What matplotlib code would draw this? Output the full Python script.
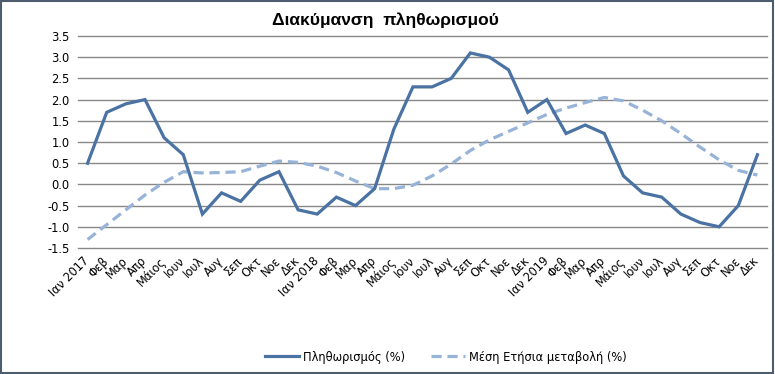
import matplotlib
matplotlib.use("Agg")
import matplotlib.pyplot as plt
from matplotlib.patches import Rectangle

months = ["Ιαν 2017", "Φεβ", "Μαρ", "Απρ", "Μάιος", "Ιουν", "Ιουλ", "Αυγ", "Σεπ", "Οκτ", "Νοε", "Δεκ",
          "Ιαν 2018", "Φεβ", "Μαρ", "Απρ", "Μάιος", "Ιουν", "Ιουλ", "Αυγ", "Σεπ", "Οκτ", "Νοε", "Δεκ",
          "Ιαν 2019", "Φεβ", "Μαρ", "Απρ", "Μάιος", "Ιουν", "Ιουλ", "Αυγ", "Σεπ", "Οκτ", "Νοε", "Δεκ"]

inflation = [0.5, 1.7, 1.9, 2.0, 1.1, 0.7, -0.7, -0.2, -0.4, 0.1, 0.3, -0.6,
             -0.7, -0.3, -0.5, -0.1, 1.3, 2.3, 2.3, 2.5, 3.1, 3.0, 2.7, 1.7,
             2.0, 1.2, 1.4, 1.2, 0.2, -0.2, -0.3, -0.7, -0.9, -1.0, -0.5, 0.7]

avg_annual = [-1.3, -0.95, -0.6, -0.25, 0.05, 0.3, 0.27, 0.28, 0.3, 0.43, 0.55, 0.52,
              0.43, 0.28, 0.08, -0.1, -0.1, -0.02, 0.2, 0.48, 0.8, 1.05, 1.25, 1.45,
              1.65, 1.8, 1.93, 2.05, 1.97, 1.75, 1.5, 1.2, 0.88, 0.58, 0.33, 0.22]

yticks = [-1.5, -1.0, -0.5, 0.0, 0.5, 1.0, 1.5, 2.0, 2.5, 3.0, 3.5]
ytick_labels = ["-1.5", "-1.0", "-0.5", "0.0", "0.5", "1.0", "1.5", "2.0", "2.5", "3.0", "3.5"]

title = "Διακύμανση  πληθωρισμού"
label_infl = "Πληθωρισμός (%)"
label_avg = "Μέση Ετήσια μεταβολή (%)"

fig = plt.figure(figsize=(7.75, 3.74), dpi=100)
ax = fig.add_axes([78/775, 1-248/374, (767-78)/775, (248-36)/374])

x = list(range(len(months)))
ax.plot(x, inflation, color="#4A72A3", lw=2.3, solid_joinstyle="miter", label=label_infl, zorder=3)
ax.plot(x, avg_annual, color="#97B3D8", lw=2.3, dashes=(3.2, 1.8), label=label_avg, zorder=2)

ax.set_xlim(-0.5, len(months) - 0.5)
ax.set_ylim(-1.5, 3.5)
ax.set_yticks(yticks)
ax.set_yticklabels(ytick_labels)
ax.set_xticks(x)
ax.set_xticklabels(months, rotation=45, ha="right", va="center", rotation_mode="anchor")
for s in ax.spines.values():
    s.set_visible(False)
ax.grid(axis="y", color="#888888", lw=1.0)
for gl in ax.get_ygridlines():
    gl.set_clip_on(False)
ax.set_axisbelow(True)
ax.tick_params(axis="both", length=0, labelsize=8.3, colors="#000000")
ax.tick_params(axis="y", pad=6)
ax.tick_params(axis="x", pad=8)

fig.text(0.497, 1-20/374, title, ha="center", va="center", fontsize=12.5,
         fontweight="bold", family="Liberation Sans")

leg = fig.legend(loc="center", bbox_to_anchor=(446/775, 1-357/374), ncol=2, frameon=False,
                 fontsize=8.3, handlelength=3.0, columnspacing=2.2, handletextpad=0.35)

fig.patches.append(Rectangle((0.001, 0.002), 0.997, 0.995, transform=fig.transFigure,
                             fill=False, edgecolor="#4D5D6E", lw=1.5))

fig.savefig("out.png", dpi=100)
